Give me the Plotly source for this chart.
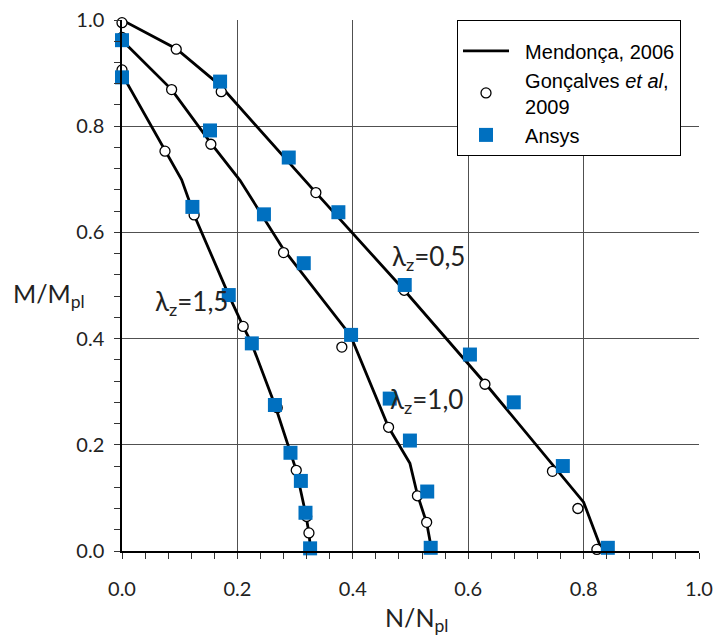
import plotly.graph_objects as go

# ---- Data ----
# Mendonça, 2006 (analytical curves)
mend_05_x = [0.0, 0.094, 0.170, 0.336, 0.490, 0.630, 0.800, 0.832]
mend_05_y = [1.000, 0.946, 0.877, 0.675, 0.490, 0.315, 0.092, 0.000]
mend_10_x = [0.0, 0.086, 0.154, 0.2045, 0.280, 0.396, 0.462, 0.499, 0.512, 0.528, 0.537]
mend_10_y = [0.962, 0.869, 0.768, 0.698, 0.568, 0.406, 0.233, 0.165, 0.106, 0.053, 0.000]
mend_15_x = [0.0, 0.0745, 0.1034, 0.1265, 0.185, 0.210, 0.225, 0.265, 0.292, 0.302, 0.318, 0.324, 0.327]
mend_15_y = [0.898, 0.753, 0.699, 0.629, 0.482, 0.423, 0.390, 0.275, 0.185, 0.152, 0.072, 0.034, 0.000]

# Gonçalves et al, 2009
gon_05_x = [0.0, 0.094, 0.172, 0.336, 0.489, 0.629, 0.746, 0.790, 0.823]
gon_05_y = [0.995, 0.945, 0.865, 0.675, 0.491, 0.314, 0.150, 0.080, 0.003]
gon_10_x = [0.0, 0.086, 0.154, 0.280, 0.381, 0.462, 0.512, 0.528]
gon_10_y = [0.967, 0.869, 0.766, 0.562, 0.384, 0.233, 0.104, 0.054]
gon_15_x = [0.0, 0.0745, 0.125, 0.210, 0.269, 0.302, 0.320, 0.324]
gon_15_y = [0.906, 0.753, 0.633, 0.423, 0.270, 0.152, 0.065, 0.034]

# Ansys
ans_05_x = [0.0, 0.170, 0.289, 0.375, 0.490, 0.603, 0.679, 0.764, 0.842]
ans_05_y = [1.007, 0.884, 0.741, 0.638, 0.501, 0.370, 0.280, 0.160, 0.006]
ans_10_x = [0.0, 0.1525, 0.246, 0.315, 0.397, 0.464, 0.499, 0.529, 0.535]
ans_10_y = [0.962, 0.792, 0.634, 0.542, 0.407, 0.287, 0.208, 0.112, 0.006]
ans_15_x = [0.0, 0.122, 0.185, 0.225, 0.265, 0.292, 0.310, 0.318, 0.326]
ans_15_y = [0.892, 0.648, 0.482, 0.391, 0.275, 0.185, 0.132, 0.072, 0.005]

x_ticks = [0.0, 0.2, 0.4, 0.6, 0.8, 1.0]
y_ticks = [0.0, 0.2, 0.4, 0.6, 0.8, 1.0]
x_tick_text = ["0.0", "0.2", "0.4", "0.6", "0.8", "1.0"]
y_tick_text = ["0.0", "0.2", "0.4", "0.6", "0.8", "1.0"]

lambda_labels = ["λ<sub>z</sub>=0,5", "λ<sub>z</sub>=1,0", "λ<sub>z</sub>=1,5"]
lambda_label_x = [0.464, 0.461, 0.054]
lambda_label_y = [0.552, 0.284, 0.468]

BLUE = "#0070C0"
TICKFONT = dict(family="Lato, Carlito, sans-serif", size=20, color="#222222")
PAD = "&nbsp;&nbsp;"

fig = go.Figure()

mend = [(mend_05_x, mend_05_y), (mend_10_x, mend_10_y), (mend_15_x, mend_15_y)]
gon = [(gon_05_x, gon_05_y), (gon_10_x, gon_10_y), (gon_15_x, gon_15_y)]
ans = [(ans_05_x, ans_05_y), (ans_10_x, ans_10_y), (ans_15_x, ans_15_y)]

for i, (xs, ys) in enumerate(mend):
    fig.add_trace(go.Scatter(
        x=xs, y=ys, mode="lines", name=PAD + "Mendonça, 2006",
        legendgroup="mend", showlegend=(i == 0),
        line=dict(color="black", width=2.8), cliponaxis=False))

for i, (xs, ys) in enumerate(gon):
    fig.add_trace(go.Scatter(
        x=xs, y=ys, mode="markers",
        name=PAD + "Gonçalves <i>et al</i>,<br>" + PAD + "2009",
        legendgroup="gon", showlegend=(i == 0),
        marker=dict(symbol="circle", size=10, color="white",
                    line=dict(color="black", width=1.3)),
        cliponaxis=False))

for i, (xs, ys) in enumerate(ans):
    fig.add_trace(go.Scatter(
        x=xs, y=ys, mode="markers", name=PAD + "Ansys",
        legendgroup="ans", showlegend=(i == 0),
        marker=dict(symbol="square", size=14, color=BLUE,
                    line=dict(width=0)),
        cliponaxis=False))

axis_common = dict(
    range=[0, 1.0], showgrid=True, gridcolor="#505050", gridwidth=1,
    showline=True, linecolor="black", linewidth=1.5, zeroline=False,
    ticks="outside", ticklen=6, tickwidth=1, tickcolor="#333333",
    minor=dict(dtick=0.04, tick0=0, ticks="outside", ticklen=6,
               tickwidth=1, tickcolor="#333333", showgrid=False),
    tickfont=TICKFONT, fixedrange=True, automargin=False,
)

fig.update_layout(
    width=715, height=639,
    margin=dict(l=122, r=16, t=20, b=88, autoexpand=False),
    paper_bgcolor="white", plot_bgcolor="white",
    xaxis=dict(tickvals=x_ticks, ticktext=x_tick_text, ticklabelstandoff=13, **axis_common),
    yaxis=dict(tickvals=y_ticks, ticktext=y_tick_text, ticklabelstandoff=6, **axis_common),
    legend=dict(x=0.5806, y=1.0, xanchor="left", yanchor="top",
                bgcolor="white", bordercolor="black", borderwidth=1,
                font=dict(family="Liberation Sans, Arial, sans-serif", size=20, color="black"),
                title=dict(text=" ", font=dict(size=8)),
                tracegroupgap=0, itemwidth=46),
    showlegend=True,
)

# axis titles
fig.add_annotation(text="M/M<sub>pl</sub>", xref="paper", yref="y",
                   x=-0.192, y=0.482, xanchor="left", yanchor="middle",
                   showarrow=False,
                   font=dict(family="Lato, sans-serif", size=25, color="#222222"))
fig.add_annotation(text="N/N<sub>pl</sub>", xref="paper", yref="paper",
                   x=0.511, y=-0.129, xanchor="center", yanchor="middle",
                   showarrow=False,
                   font=dict(family="Lato, sans-serif", size=25, color="#222222"))

for t, lx, ly in zip(lambda_labels, lambda_label_x, lambda_label_y):
    fig.add_annotation(text=t, x=lx, y=ly, xref="x", yref="y",
                       xanchor="left", yanchor="middle", showarrow=False,
                       font=dict(family="Lato, sans-serif", size=26, color="#222222"))

fig.write_html("out.html")
